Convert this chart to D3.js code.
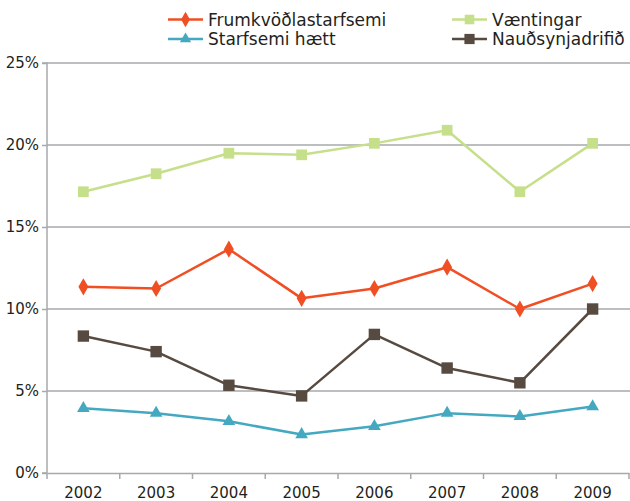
<!DOCTYPE html>
<html><head><meta charset="utf-8">
<script src="https://cdn.jsdelivr.net/npm/d3@7"></script>
<style>body{margin:0;background:#fff}svg{display:block}text{font-family:"DejaVu Sans",sans-serif;fill:#231f20}</style>
</head><body><svg id="c" width="630" height="501"></svg>
<script>
const years = ["2002","2003","2004","2005","2006","2007","2008","2009"];
const frumkvodla = [11.35, 11.25, 13.65, 10.65, 11.25, 12.55, 10.0, 11.55];
const vaentingar = [17.15, 18.25, 19.5, 19.4, 20.1, 20.9, 17.15, 20.1];
const starfsemiHaett = [3.95, 3.65, 3.15, 2.35, 2.85, 3.65, 3.45, 4.05];
const naudsynja = [8.35, 7.4, 5.35, 4.7, 8.45, 6.4, 5.5, 10.0];
const yTicks = [0, 5, 10, 15, 20, 25];

const series = [
  {name:"Frumkvöðlastarfsemi", values:frumkvodla, color:"#f04e23", sym:d3.symbolDiamond, size:85},
  {name:"Væntingar", values:vaentingar, color:"#c6df8b", sym:d3.symbolSquare, size:115},
  {name:"Starfsemi hætt", values:starfsemiHaett, color:"#44a9c0", sym:d3.symbolTriangle, size:70},
  {name:"Nauðsynjadrifið", values:naudsynja, color:"#574a40", sym:d3.symbolSquare, size:130}
];

const svg = d3.select("#c");
const L = 47, R = 629, T = 63, B = 473;
const x = d3.scaleBand().domain(years).range([L, R]);
const y = d3.scaleLinear().domain([0, 25]).range([B, T]);

// gridlines
svg.append("g").selectAll("line").data(yTicks.filter(d=>d>0)).join("line")
  .attr("x1", L).attr("x2", 630).attr("y1", d=>y(d)).attr("y2", d=>y(d))
  .attr("stroke", "#a7a9ac").attr("stroke-width", 1.5);

// y axis
const ya = svg.append("g").attr("transform", `translate(${L},0)`)
  .call(d3.axisLeft(y).tickValues(yTicks).tickSize(5).tickFormat(d=>d+"%"));
ya.select(".domain").attr("stroke", "#a7a9ac").attr("stroke-width", 1.5).attr("d", `M-5,${T}H0V${B}H-5`);
ya.selectAll(".tick line").attr("stroke", "#a7a9ac").attr("stroke-width", 1.5);
ya.selectAll(".tick text").attr("font-size", 15).attr("x", -8).attr("fill", "#231f20");

// x axis
const xa = svg.append("g").attr("transform", `translate(0,${B})`)
  .call(d3.axisBottom(x).tickSize(0));
xa.select(".domain").attr("stroke", "#a7a9ac").attr("stroke-width", 1.5);
xa.selectAll(".tick text").attr("font-size", 15).attr("dy", 0).attr("y", 24.5).attr("fill", "#231f20");
const bounds = years.map(d=>x(d)).concat([R]);
xa.append("g").selectAll("line").data(bounds).join("line")
  .attr("x1", d=>d).attr("x2", d=>d).attr("y1", 0).attr("y2", 6)
  .attr("stroke", "#a7a9ac").attr("stroke-width", 1.5);

const cx = d => x(d) + x.bandwidth()/2;
const line = d3.line().x((d,i)=>cx(years[i])).y(d=>y(d));

series.forEach(s => {
  const g = svg.append("g");
  g.append("path").attr("d", line(s.values)).attr("fill","none")
    .attr("stroke", s.color).attr("stroke-width", 2.5).attr("stroke-linejoin","round");
  g.selectAll("path.m").data(s.values).join("path").attr("class","m")
    .attr("transform", (d,i)=>`translate(${cx(years[i])},${y(d)})`)
    .attr("d", d3.symbol().type(s.sym).size(s.size)).attr("fill", s.color);
});

// legend
const legPos = [[168,19.5],[452,19.5],[168,39],[452,39]];
series.forEach((s,i)=>{
  const [lx,ly] = legPos[i];
  const len = 35;
  const g = svg.append("g").attr("transform",`translate(${lx},${ly})`);
  g.append("line").attr("x1",0).attr("x2",len).attr("y1",0).attr("y2",0)
    .attr("stroke",s.color).attr("stroke-width",2.5);
  g.append("path").attr("transform",`translate(${len/2},0)`)
    .attr("d", d3.symbol().type(s.sym).size(s.size*0.8)).attr("fill", s.color);
  g.append("text").attr("x",len+5).attr("y",0).attr("dy","0.36em").attr("font-size",17).text(s.name);
});
</script></body></html>
